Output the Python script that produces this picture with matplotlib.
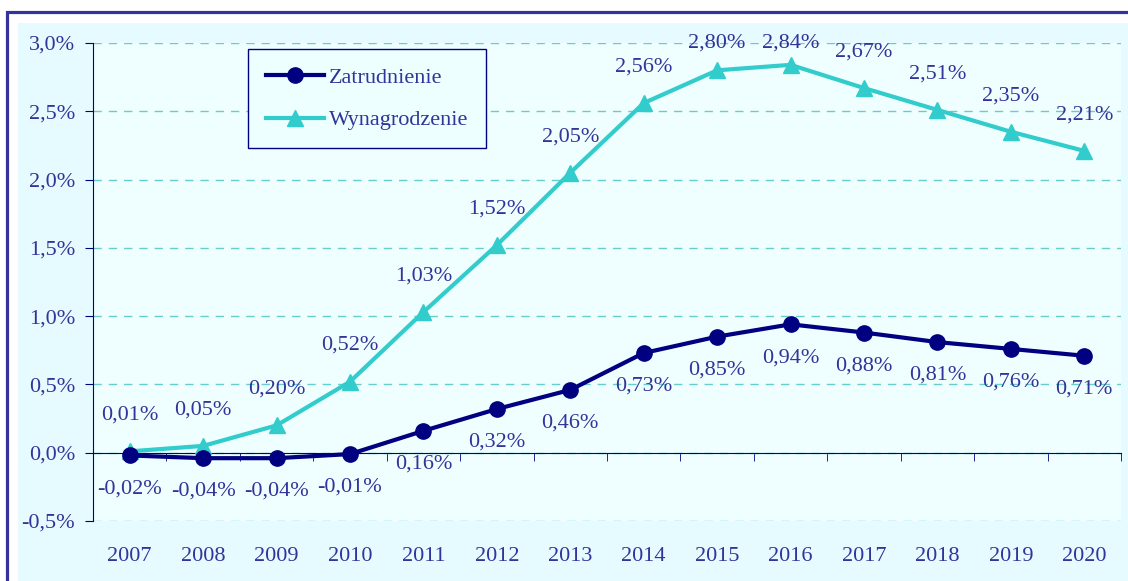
import matplotlib.pyplot as plt
from matplotlib.patches import Rectangle
from matplotlib.ticker import FuncFormatter, FixedLocator

plt.rcParams['font.family'] = ['Liberation Serif', 'DejaVu Serif']

lata = ['2007', '2008', '2009', '2010', '2011', '2012', '2013',
        '2014', '2015', '2016', '2017', '2018', '2019', '2020']
zatrudnienie = [-0.02, -0.04, -0.04, -0.01, 0.16, 0.32, 0.46,
                0.73, 0.85, 0.94, 0.88, 0.81, 0.76, 0.71]
wynagrodzenie = [0.01, 0.05, 0.20, 0.52, 1.03, 1.52, 2.05,
                 2.56, 2.80, 2.84, 2.67, 2.51, 2.35, 2.21]

txt = '#333399'
granat = '#000080'
turkus = '#33CCCC'
fs = 16

fig = plt.figure(figsize=(11.28, 5.81), dpi=100)
fig.patch.set_facecolor('white')
# ramka i tlo obszaru wykresu
fig.patches.append(Rectangle((18 / 1128, 0), 1.0, 1 - 23 / 581, transform=fig.transFigure,
                             facecolor='#E5FBFF', edgecolor='none', zorder=-2))
fig.patches.append(Rectangle((7 / 1128, -0.1), 1.1, 1.1 - 12 / 581, transform=fig.transFigure,
                             facecolor='none', edgecolor='#333399', lw=2.3, zorder=-1))

ax = fig.add_axes([93 / 1128, 1 - 521 / 581, (1121 - 93) / 1128, (521 - 43) / 581])
ax.set_zorder(2)
ax.set_facecolor('#EFFFFF')

x = list(range(len(lata)))
ax.plot(x, zatrudnienie, color=granat, lw=3, marker='o', ms=11, label='Zatrudnienie', zorder=4)
ax.plot(x, wynagrodzenie, color=turkus, lw=3, marker='^', ms=11, label='Wynagrodzenie', zorder=3)

ymax = 3.0
fmt = lambda v: ('%.2f' % v).replace('.', ',') + '%'
for i in x:
    # etykiety nad punktami, ale nie wyzej niz gora osi
    ax.text(i, min(wynagrodzenie[i] + 0.265, ymax), fmt(wynagrodzenie[i]),
            ha='center', va='center', color=txt, fontsize=fs)
    ax.annotate(fmt(zatrudnienie[i]), (i, zatrudnienie[i]), xytext=(0, -24),
                textcoords='offset points', ha='center', va='center', color=txt, fontsize=fs)

ax.set_xlim(-0.5, len(lata) - 0.5)
ax.set_ylim(-0.5, ymax)
ax.set_yticks([-0.5, 0, 0.5, 1.0, 1.5, 2.0, 2.5, 3.0])
ax.yaxis.set_major_formatter(FuncFormatter(lambda v, p: ('%.1f' % v).replace('.', ',') + '%'))
ax.grid(axis='y', color='#66CCCC', ls=(0, (6, 5)), lw=1)
ax.set_axisbelow(True)

for s in ['top', 'right']:
    ax.spines[s].set_visible(False)
ax.spines['left'].set_color(granat)
ax.spines['bottom'].set_color(granat)
ax.spines['bottom'].set_position(('data', 0))

ax.set_xticks(x)
ax.set_xticklabels(lata)
ax.xaxis.set_minor_locator(FixedLocator([i + 0.5 for i in range(-1, len(lata))]))
ax.tick_params(axis='x', which='major', length=0, pad=68, labelsize=fs, labelcolor=txt)
ax.tick_params(axis='x', which='minor', length=6, color=granat, direction='out')
ax.tick_params(axis='y', length=6, color=granat, labelsize=fs, labelcolor=txt, pad=7)

leg = ax.legend(loc='upper left', bbox_to_anchor=(0.151, 0.987), fontsize=fs, frameon=True,
                fancybox=False, edgecolor=granat, facecolor='#EEFFFF', framealpha=1,
                handlelength=2.6, labelspacing=1.0, borderpad=0.8, handletextpad=0.25,
                borderaxespad=0)
for t in leg.get_texts():
    t.set_color(txt)

fig.savefig('out.png', dpi=100)
